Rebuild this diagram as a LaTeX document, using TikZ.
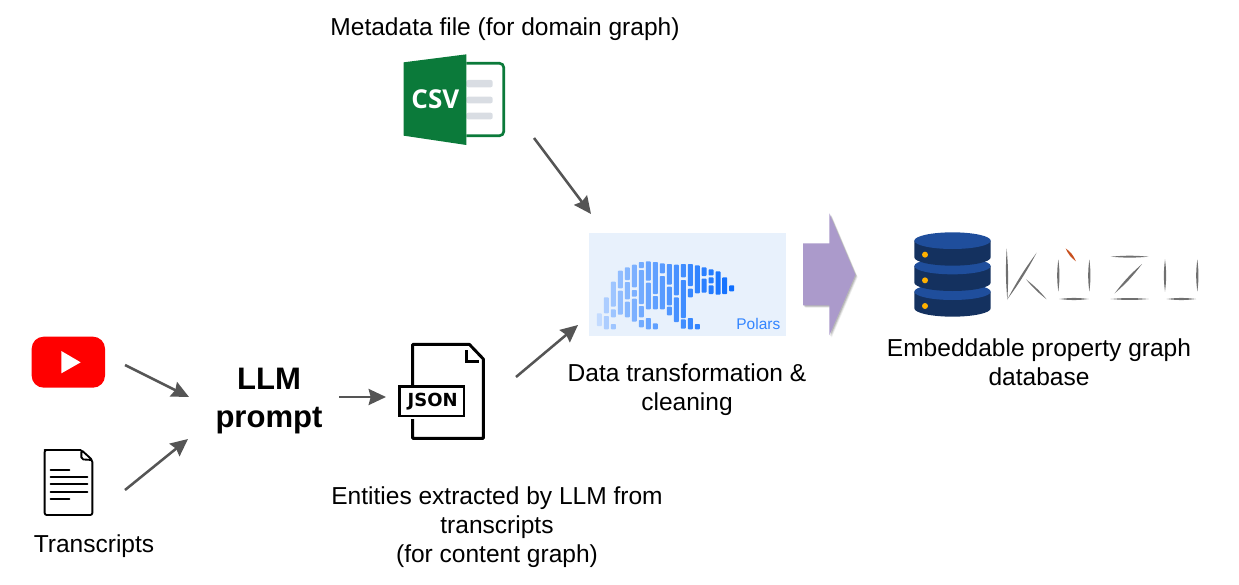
\documentclass[tikz,border=0pt]{standalone}
\usepackage{fontspec}
\setmainfont{Liberation Sans}
\newfontfamily\logofont{Open Sans}
\newfontfamily\jsonfont{DejaVu Sans}
\usetikzlibrary{arrows.meta}
\definecolor{arrowgrey}{HTML}{555555}
\definecolor{polblue}{HTML}{0F6FFF}
\definecolor{polbg}{HTML}{E8F1FC}
\definecolor{bigarrow}{HTML}{AB9ACB}
\definecolor{csvgreen}{HTML}{0B7A3A}
\definecolor{csvbar}{HTML}{D9DDE3}
\definecolor{dbdark}{HTML}{14315F}
\definecolor{dblight}{HTML}{1F4E9C}
\definecolor{dbdot}{HTML}{FFB000}
\definecolor{kuzugrey}{HTML}{707070}
\definecolor{kuzured}{HTML}{C8501E}
\tikzset{
  flow/.style={draw=arrowgrey,line width=1.9pt,-{Stealth[length=13pt,width=12pt,inset=1.5pt]}},
  label/.style={align=center,inner sep=0pt,font=\fontsize{18.4}{21.75}\selectfont},
  boldlabel/.style={align=center,inner sep=0pt,font=\fontsize{23.3}{28.5}\selectfont\bfseries},
  zoomed/.style={x=.25pt,y=-.25pt},
}
\newcommand{\lensstroke}[4][kuzugrey]{\fill[#1] (#2) to[bend left=#3] (#4) to[bend left=#3] (#2);}
\newcommand{\dbdisk}[1]{%
  \fill[dbdark] (43,#1) -- (43,#1+50) arc[start angle=180,end angle=0,x radius=114.5,y radius=25] -- (272,#1) -- cycle;
  \fill[dblight] (157.5,#1) ellipse[x radius=114.5,y radius=25];}
\begin{document}
\begin{tikzpicture}[x=.75pt,y=-.75pt]
\useasboundingbox (0,0) rectangle (1239,585);

% CSV icon
\begin{scope}[shift={(390,45)},zoomed]
  \draw[csvgreen,line width=2pt,rounded corners=3pt] (229,55) -- (341,55) -- (341,272) -- (229,272);
  \foreach \yy/\zz in {105/127,155/175,203/223}
    \fill[csvbar,rounded corners=1.5pt] (229,\yy) rectangle (308,\zz);
  \fill[csvgreen] (41,52) -- (229,28) -- (229,300) -- (41,272) -- cycle;
  \node[text=white,font=\logofont\fontsize{19.5}{19.5}\selectfont\bfseries,inner sep=0pt] (csvtext) at (136,163) {CSV};
\end{scope}

% YouTube icon
\begin{scope}[shift={(20,325)},zoomed]
  \fill[red,rounded corners=9pt] (35,35) rectangle (255,188);
  \fill[white] (124,78) -- (182,112) -- (124,145) -- cycle;
\end{scope}

% Transcript icon
\begin{scope}[shift={(20,325)},zoomed]
  \draw[black,line width=1.4pt,line join=round,rounded corners=1.5pt] (184,375) -- (80,375) -- (74,375) -- (74,570) -- (217,570) -- (217,405) -- (184,375) -- (184,403) -- (217,405);
  \foreach \yy/\xe in {435/148,456/202,478/202,500/202,522/148}
    \draw[black,line width=1.5pt,line cap=round] (92,\yy) -- (\xe,\yy);
\end{scope}

% JSON icon
\begin{scope}[shift={(390,335)},zoomed]
  \draw[black,line width=2.2pt,line join=round] (68,150) -- (68,28) -- (238,28) -- (280,72) -- (280,310) -- (68,310) -- (68,252);
  \draw[black,line width=2.2pt] (230,45) -- (230,80) -- (266,80);
  \draw[black,line width=2.2pt] (28,155) rectangle (222,243);
  \node[text=black,font=\jsonfont\fontsize{13.5}{13.5}\selectfont\bfseries,inner sep=0pt] (jsontext) at (128,201) {JSON};
\end{scope}

% Polars logo
\begin{scope}[shift={(580,200)},zoomed]
  \fill[polbg] (27,99) rectangle (617,408);
  \foreach \xc/\ya/\yb in {58/340/378,79/292/340,79/348/388,100/245/320,100/328/352,100/372/388,
    121/212/265,121/272/344,142/202/240,142/246/298,142/305/352,163/194/262,163/270/290,163/296/365,
    184/186/204,184/210/312,184/318/352,184/360/382,205/184/242,205/248/328,205/354/388,
    226/186/282,226/288/328,226/370/388,247/190/220,247/228/328,268/192/254,268/260/316,268/320/346,
    289/194/286,289/292/366,310/192/232,310/240/354,310/358/386,331/192/258,331/266/292,331/354/388,
    352/196/280,352/372/388,372/202/228,372/236/278,393/208/226,393/232/250,393/256/282,
    414/214/284,434/232/282,455/256/274}{
    \pgfmathsetmacro\mixval{25+75*((\xc-58)/397)^0.7}
    \fill[polblue!\mixval!white,rounded corners=.6pt] (\xc-7.5,\ya) rectangle (\xc+7.5,\yb);
  }
  \node[text=polblue!85!white,font=\fontsize{11.6}{12}\selectfont,inner sep=0pt] (polarstext) at (535,373) {Polars};
\end{scope}

% Large arrow
\begin{scope}[shift={(580,200)},zoomed]
  \foreach \off/\op in {7/.07,5/.10,3/.14}
    \fill[black,opacity=\op,shift={(\off*0.25pt,\off*-0.25pt)}] (669,130) -- (748,130) -- (748,40) -- (826,224) -- (748,406) -- (748,316) -- (669,316) -- cycle;
  \fill[bigarrow] (669,130) -- (748,130) -- (748,40) -- (826,224) -- (748,406) -- (748,316) -- (669,316) -- cycle;
\end{scope}

% Database and Kuzu logo
\begin{scope}[shift={(900,220)},zoomed]
  \dbdisk{215}
  \dbdisk{138}
  \dbdisk{62}
  \foreach \yy in {104,181,258} \fill[dbdot] (75,\yy) circle[radius=9];
  \lensstroke{320,85}{4}{322,240}
  \lensstroke{410,98}{4}{322,238}
  \lensstroke{378,178}{6}{440,238}
  \lensstroke{475,118}{7}{475,215}
  \lensstroke{568,118}{7}{568,215}
  \lensstroke{478,237}{7}{566,237}
  \lensstroke[kuzured]{497,85}{15}{528,124}
  \lensstroke{632,110}{5}{746,110}
  \lensstroke{726,132}{6}{644,220}
  \lensstroke{632,237}{5}{746,237}
  \lensstroke{795,118}{7}{795,215}
  \lensstroke{892,118}{7}{892,215}
  \lensstroke{800,237}{7}{888,237}
\end{scope}

% Labels
\node[label] (metadata) at (505,29) {Metadata file (for domain graph)};
\node[boldlabel] (llm) at (269,401) {LLM\\prompt};
\node[label] (transcripts) at (94,546) {Transcripts};
\node[label] (entities) at (497,527) {Entities extracted by LLM from\\transcripts\\(for content graph)};
\node[label] (datatrans) at (687,390) {Data transformation \&\\cleaning};
\node[label] (embed) at (1039,362) {Embeddable property graph\\database};

% Connector ends
\coordinate (yta) at (125,365);    \coordinate (ytb) at (189,397);
\coordinate (tra) at (125,490);    \coordinate (trb) at (188,439);
\coordinate (lla) at (339,397);    \coordinate (llb) at (386,397);
\coordinate (jsa) at (516,377);    \coordinate (jsb) at (578,325);
\coordinate (csa) at (534,138);    \coordinate (csb) at (591,214);
\draw[flow] (yta) -- (ytb);
\draw[flow] (tra) -- (trb);
\draw[flow] (lla) -- (llb);
\draw[flow] (jsa) -- (jsb);
\draw[flow] (csa) -- (csb);
\end{tikzpicture}
\end{document}
